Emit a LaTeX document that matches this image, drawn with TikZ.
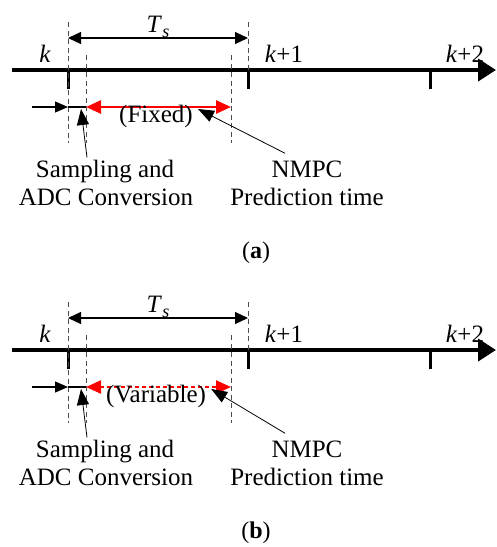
\documentclass[tikz,border=0pt]{standalone}
\usepackage{fontspec}
\setmainfont{Liberation Serif}
\usetikzlibrary{arrows.meta}

\tikzset{
  axisline/.style={line width=4pt, -{Triangle[length=18pt,width=22pt]}},
  tickmark/.style={line width=3pt},
  guide/.style={line width=0.9pt, black!70, dash pattern=on 5pt off 3.5pt},
  spanarrow/.style={line width=1.1pt, {Triangle[length=13pt,width=12pt]}-{Triangle[length=13pt,width=12pt]}},
  feedarrow/.style={line width=1.1pt, -{Triangle[length=13pt,width=11pt]}},
  pointer/.style={line width=0.8pt, -{Triangle[length=16pt,width=12pt]}},
  window/.style={red, line width=2.6pt, {Triangle[length=15pt,width=13pt]}-{Triangle[length=15pt,width=13pt]}},
  dashedwindow/.style={window, line width=2.3pt, dash pattern=on 4pt off 3pt},
  lbl/.style={inner sep=0pt, anchor=base, font=\fontsize{25}{30}\selectfont},
  subcaption/.style={inner sep=0pt, font=\fontsize{24}{28}\selectfont},
}

% one timeline panel: #1 name suffix, #2 vertical offset, #3 window label,
% #4 window style, #5 panel letter
\newcommand\timelinepanel[5]{%
  \begin{scope}[yshift=-#2pt]
    % time axis with sampling instants
    \coordinate (axL#1) at (12,70);
    \coordinate (axR#1) at (496,70);
    \draw[axisline] (axL#1) -- (axR#1);
    \draw[tickmark] (68,70) -- (68,89);
    \draw[tickmark] (248,70) -- (248,89);
    \draw[tickmark] (430,70) -- (430,89);
    % dashed guides
    \draw[guide] (68,22) -- (68,143);
    \draw[guide] (248,22) -- (248,70);
    \draw[guide] (86,55) -- (86,143);
    \draw[guide] (231,55) -- (231,143);
    % sampling period
    \coordinate (tsL#1) at (68,38);
    \coordinate (tsR#1) at (248,38);
    \draw[spanarrow] (tsL#1) -- (tsR#1);
    \node[lbl] (ts#1) at (158,32) {\textit{T}\kern0.5pt\raisebox{-5pt}{\fontsize{18}{18}\selectfont\textit{s}}};
    % instant labels
    \node[lbl] (k0#1) at (45,62) {\textit{k}};
    \node[lbl] (k1#1) at (284,62) {\textit{k}+1};
    \node[lbl] (k2#1) at (465,62) {\textit{k}+2};
    % acquisition and prediction windows
    \coordinate (in#1) at (32,107);
    \coordinate (s0#1) at (68,107);
    \coordinate (s1#1) at (86,107);
    \coordinate (p1#1) at (231,107);
    \draw[feedarrow] (in#1) -- (s0#1);
    \draw[line width=1.1pt] (s0#1) -- (s1#1);
    \draw[#4] (s1#1) -- (p1#1);
    \node[lbl] (win#1) at (156,122) {#3};
    % descriptions
    \node[lbl] (samp#1) at (105,177) {Sampling and};
    \node[lbl] (adc#1) at (106,205) {ADC Conversion};
    \node[lbl] (nmpc#1) at (307,177) {NMPC};
    \node[lbl] (pred#1) at (307,205) {Prediction time};
    \coordinate (adcmark#1) at (81,109);
    \draw[pointer] ([xshift=-18pt,yshift=2pt]samp#1.north) -- (adcmark#1);
    \draw[pointer] ([xshift=-22pt,yshift=7pt]nmpc#1.north) -- ([xshift=5pt,yshift=7pt]win#1.east);
    \node[subcaption] (cap#1) at (256,253) {(\textbf{#5})};
  \end{scope}%
}

\begin{document}
\begin{tikzpicture}[x=1pt, y=-1pt]
  \useasboundingbox (0,0) rectangle (497,547);
  \timelinepanel{a}{0}{(Fixed)}{window}{a}
  \timelinepanel{b}{280}{(Variable)}{dashedwindow}{b}
\end{tikzpicture}
\end{document}
